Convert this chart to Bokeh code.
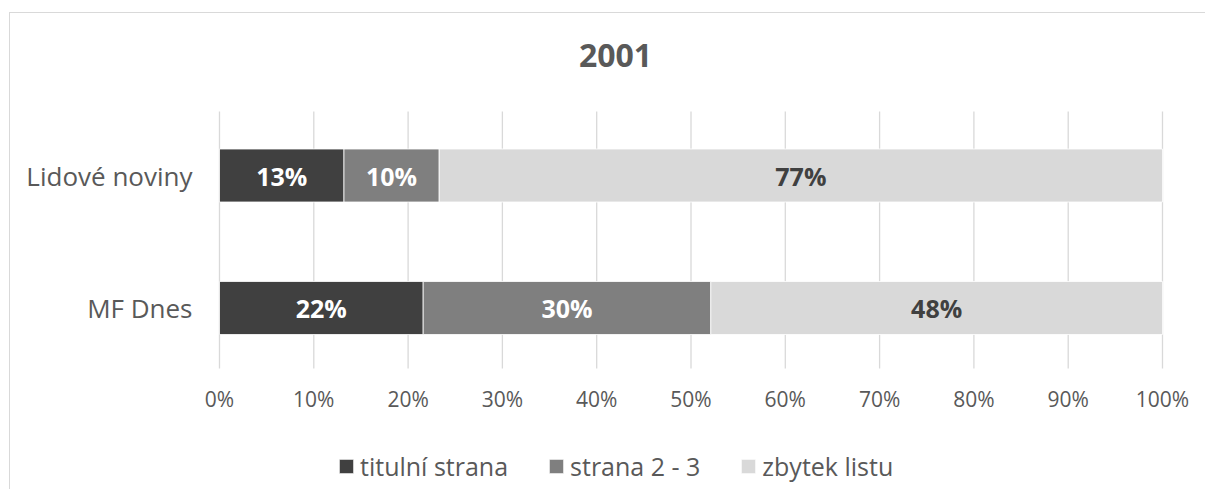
from bokeh.plotting import figure
from bokeh.models import (ColumnDataSource, FixedTicker, NumeralTickFormatter,
                          Legend, LegendItem, LabelSet, Label)
from bokeh.core.properties import value
from bokeh.embed import file_html
from bokeh.resources import INLINE

# ---- data ----
title_text = "2001"
categories = ["MF Dnes", "Lidové noviny"]
series_names = ["titulní strana", "strana 2 - 3", "zbytek listu"]
titulni = [21.6, 13.2]
strana23 = [30.5, 10.1]
zbytek = [47.9, 76.7]
x_ticks = [0.0, 0.1, 0.2, 0.3, 0.4, 0.5, 0.6, 0.7, 0.8, 0.9, 1.0]
colors = ["#404040", "#7f7f7f", "#d9d9d9"]
label_colors = ["#ffffff", "#ffffff", "#404040"]

# ---- layout constants (data-space extent of the plot area) ----
AREA_BOTTOM, AREA_TOP = -0.457, 1.483
X_RANGE = (-0.22163, 1.04560)
Y_RANGE = (-1.3698, 2.3208)
TITLE_X, TITLE_Y = 0.42, 1.905

ypos = list(range(len(categories)))
series = [titulni, strana23, zbytek]
keys = ["s0", "s1", "s2"]

data = {"y": ypos}
for k, s in zip(keys, series):
    data[k] = [v / 100.0 for v in s]
src = ColumnDataSource(data)

FONT = "Open Sans"

p = figure(width=1205, height=489, output_backend="svg", toolbar_location=None,
           x_range=X_RANGE, y_range=Y_RANGE,
           min_border_left=10, min_border_right=0,
           min_border_top=0, min_border_bottom=0)
# chart-area border (top and left edges) drawn as host background
p.styles = {
    "background-image": "linear-gradient(#d9d9d9, #d9d9d9), linear-gradient(#d9d9d9, #d9d9d9)",
    "background-position": "9px 12px, 9px 12px",
    "background-size": "100% 1px, 1px 100%",
    "background-repeat": "no-repeat",
}
p.border_fill_color = None
p.background_fill_color = None
p.outline_line_color = None

# vertical gridlines limited to the plot area
gsrc = ColumnDataSource(dict(x=x_ticks, y0=[AREA_BOTTOM] * len(x_ticks),
                             y1=[AREA_TOP] * len(x_ticks)))
p.segment(x0="x", x1="x", y0="y0", y1="y1", source=gsrc,
          line_color="#d9d9d9", line_width=1.3)

renderers = p.hbar_stack(keys, y="y", height=0.4, color=colors,
                         line_color="white", line_width=0.8, source=src)

# data labels
lab_x, lab_y, lab_t, lab_c = [], [], [], []
for i in range(len(categories)):
    cum = 0.0
    for j, s in enumerate(series):
        v = s[i] / 100.0
        lab_x.append(cum + v / 2)
        lab_y.append(ypos[i])
        lab_t.append(f"{round(s[i])}%")
        lab_c.append(label_colors[j])
        cum += v
lsrc = ColumnDataSource(dict(x=lab_x, y=lab_y, t=lab_t, c=lab_c))
p.add_layout(LabelSet(x="x", y="y", text="t", source=lsrc, text_color="c",
                      text_font=value(FONT), text_font_style="bold",
                      text_font_size="25px", text_align="center",
                      text_baseline="middle"))

# title
p.add_layout(Label(x=TITLE_X, y=TITLE_Y, text=title_text, text_font=FONT,
                   text_font_size="32px", text_font_style="bold",
                   text_color="#595959", text_align="center",
                   text_baseline="alphabetic"))

# axes
xa = p.below[0]
xa.ticker = FixedTicker(ticks=x_ticks)
xa.formatter = NumeralTickFormatter(format="0%")
xa.fixed_location = AREA_BOTTOM
xa.axis_line_color = None
xa.major_tick_line_color = None
xa.minor_tick_line_color = None
xa.major_tick_out = 0
xa.major_label_text_font = FONT
xa.major_label_text_font_size = "21px"
xa.major_label_text_color = "#595959"
xa.major_label_standoff = 16

ya = p.left[0]
ya.ticker = FixedTicker(ticks=ypos)
ya.major_label_overrides = {ypos[i]: categories[i] for i in range(len(categories))}
ya.fixed_location = 0
ya.axis_line_color = None
ya.major_tick_line_color = None
ya.minor_tick_line_color = None
ya.major_tick_out = 0
ya.major_label_text_font = FONT
ya.major_label_text_font_size = "26px"
ya.major_label_text_color = "#595959"
ya.major_label_standoff = 27

p.xgrid.grid_line_color = None
p.ygrid.grid_line_color = None

legend = Legend(items=[LegendItem(label=n, renderers=[r]) for n, r in zip(series_names, renderers)],
                orientation="horizontal", location=(327, 6),
                label_text_font=FONT, label_text_font_size="25px",
                label_text_color="#595959", glyph_width=18, glyph_height=18,
                label_standoff=5, spacing=39, padding=0, margin=0,
                border_line_color=None, background_fill_alpha=0)
p.add_layout(legend, "center")

open("out.html", "w").write(file_html(p, INLINE))
